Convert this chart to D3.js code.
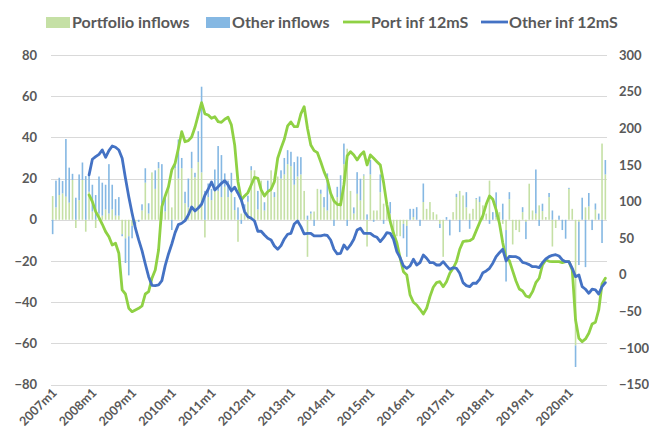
<!DOCTYPE html>
<html>
<head>
<meta charset="utf-8">
<script src="https://cdn.jsdelivr.net/npm/d3@7"></script>
<style>
  html, body { margin: 0; padding: 0; background: #fff; }
  svg text { font-family: Lato, "Open Sans", "Liberation Sans", sans-serif; font-weight: bold; fill: #595959; }
</style>
</head>
<body>
<svg id="chart" width="649" height="439"></svg>
<script>
// Monthly flows, 2007m1 .. 2020m12 (left axis)
const years = d3.range(2007, 2021);
const months = years.flatMap(y => d3.range(1, 13).map(m => `${y}m${m}`));

const portfolioInflows = [
  // 2007
  11.5, 6, 12, 12.8, 11.2, 8.3, 19.3, -4, 9.5, 19.3, -5.8, 13.6,
  // 2008
  4, -4, 3, 2, 5, 3, 5, 2, 2, -7, -9, -8,
  // 2009
  -3, -1, 0, 4.5, 18, 3, 23, 15, 25, 3, 4, 15,
  // 2010
  6, 25, 20, 25, 8, 6, 25, 20.6, 28, 23, -8.6, 11,
  // 2011
  9.5, 14, 14, 11, 16, 11, 12.8, 4.7, -10.7, 3, 5.5, 8.7,
  // 2012
  24, 24, 5, 19, 4.5, 14, 24, 11, 21, 20, 22, 27,
  // 2013
  26, 17, 21, 22, 14, -18, 3, 4, 15, 12.6, 6, 4.5,
  // 2014
  12.6, 8.6, 11, 8.6, 27, 34.5, 14, 3, 12.6, 9.4, 21.5, -13,
  // 2015
  22, 4.5, 4.5, 13.4, 7.8, 7, 3, -5, -8, -8, -2, -3,
  // 2016
  0, 1.3, 0, 0, 8.6, 5.3, 8.6, 3.7, 2.6, -2, -18, 0,
  // 2017
  0, 3.7, 11, 14, 11.8, 6, 3, 5.3, 10, 8.6, 7, 3,
  // 2018
  19, 0, 1.3, 3.7, -2, -5, 10, -12, -5, -6, 3.7, -1,
  // 2019
  17.5, 4.5, 3, 7, 4.2, 1.3, 11, -13, -4, 0, 0, 0,
  // 2020
  15, 5.3, -61, -1, 0, 6, 6.5, 0, 4.9, 0, 37, 22
];

const otherInflows = [
  // 2007
  -7, 13, 8.4, 6, 28, 17, 3, 10.7, 12.5, 8.5, 21.2, 8,
  // 2008
  13, 12, 18, 16, 12, 24, 12, 8, 9, -1, -12, -19,
  // 2009
  -6, -2, -1, 3, 7, 5, 0, 9, 3, 24, 7, 1.5,
  // 2010
  -5, 3, 19, 5, 5.6, 14, 8, 2.2, 15, 41.6, 14, 6.6,
  // 2011
  5.5, 10.4, 21.8, 20.4, 6.5, 8, 10, 6.3, 6, -2, 2, 3,
  // 2012
  2, 0, 9, 0, 4, 5, 0, 2.4, 0, 4, 8, 6.8,
  // 2013
  7, 11, 9.7, 8.4, 0, 2, 1, -3, 0, 2, 5, 18,
  // 2014
  0, -3, 5, 13, 10, -3, 0, 3, 10.5, 10.5, 0.5, 2.6,
  // 2015
  7, -1, 0, 8.6, -2, 0, 5.6, -2, 0, 0, -7, -15,
  // 2016
  5.3, 4, 6.1, -3, 9, 0, 0, 0, 0, -2, 0, 1.3,
  // 2017
  -7.6, 0, 1.6, -6, 0, 7.4, -4.4, 0, 0.5, 2.7, 0, 0,
  // 2018
  -2, 3.7, 12, 0, 7.8, -25, 3.4, 0, 0, 0, 2.4, -8.4,
  // 2019
  0, 0, 21.4, -3, 3.6, 0, 2, 4.5, 0, 2, -5, -9.2,
  // 2020
  0.5, 0, -10.5, -21, 10.7, -23, 6.5, -5, 3, 3, -11.3, 7
];

// 12-month sums, 2007m12 .. 2020m12 (right axis)
const portInf12mS = [
  108.9,
  99.7, 86.1, 77.9, 68.8, 58.8, 51.9, 40.6, 42.9, 29.2, -20.9, -26.4, -45.9,
  -50.5, -48.2, -45.9, -42.7, -26.4, -23.2, -4.9, 6.4, 33.7, 92.9, 107.5, 120.2,
  143, 152.1, 172.6, 195.3, 181.6, 183, 188, 201.3, 218.1, 234.9, 219.5, 218.1,
  213.6, 215.8, 209, 208.1, 212.2, 215, 204.5, 177.1, 127, 102, 107.5, 112,
  122.5, 133, 131.7, 115.7, 107.5, 113.4, 116.6, 127, 159, 172.6, 184.9, 203.1,
  208.6, 202.1, 202.1, 219.5, 229.4, 200, 177.1, 169.4, 166.6, 154.3, 140.7, 130,
  111.2, 100.7, 96.1, 95.2, 122.5, 162.1, 168, 163.5, 156.7, 163.5, 168, 149.8,
  163.5, 159, 154.3, 149.8, 125.7, 95.2, 72.4, 56.5, 43.7, 22.4, 4.1, -0.4,
  -27.7, -37.7, -41.4, -47.3, -53.7, -45.9, -30, -17.2, -10.9, -9.6, -16.4, -9.6,
  1.9, 8.7, 17.8, 34.7, 45.1, 46, 46.4, 49.2, 60.1, 71, 80.6, 96.1,
  107.5, 103, 88.4, 70.2, 43.7, 22.4, 19.1, 5.1, -8.6, -19.5, -22.3, -29.1,
  -30.9, -23.2, -10.9, -4.9, 13.2, 20.1, 18.3, 17.8, 17.8, 17.8, 16.4, 17.8,
  17.8, 6.4, -61.9, -86.9, -91.5, -87.8, -80, -67.3, -65, -48.2, -12.7, -4.9
];

const otherInf12mS = [
  136.2,
  157.6, 161.2, 164.4, 170.3, 160.3, 169.4, 175.8, 174, 170.3, 159, 131.7, 106.5,
  83.9, 63.4, 47.4, 32.8, 14.6, -2.7, -14.5, -15, -14.1, -8.2, 12.3, 28.3,
  41.9, 57.4, 68.3, 70.2, 73.7, 81.5, 92.5, 87, 91.1, 96.1, 108.4, 116.6,
  126.6, 115.7, 120.2, 124.8, 128.4, 122.5, 114.7, 119.4, 111.2, 102, 86, 79.2,
  77, 73.3, 59.3, 59.3, 54.2, 49.7, 47.4, 39.2, 34.7, 39.6, 48.8, 55.2,
  56.5, 69.2, 73.3, 65.6, 55.6, 56.5, 56.5, 52.9, 52.9, 52.9, 54.2, 53.5,
  47.4, 34.7, 28.3, 29.2, 40.6, 34.7, 40.6, 48.3, 61, 63.4, 56.5, 56.5,
  56.5, 52.9, 51, 45.1, 50.5, 57.4, 56.5, 48.3, 31.4, 23.2, 11.9, 8.7,
  11.9, 21, 13.2, 16.4, 26.9, 22.4, 16.4, 16.4, 13.2, 13.2, 17.8, 12.3,
  7.3, 9.6, 8.7, 1.9, -10.9, -15, -16.4, -11.7, -11.7, -6.3, 2.7, 5.1,
  8.7, 15.6, 24.6, 30, 34.7, 18.7, 25.1, 24.6, 24.6, 22.4, 16.9, 15.6,
  13.7, 10.9, 10.9, 9.6, 16.4, 21.4, 24.6, 26.5, 27.3, 25.5, 20.1, 17.8,
  17.8, 8.7, -2.7, -0.4, -16.4, -19.9, -25.4, -19.9, -20.9, -26.4, -16.4, -10.9
];

const leftTicks = [80, 60, 40, 20, 0, -20, -40, -60, -80];
const rightTicks = [300, 250, 200, 150, 100, 50, 0, -50, -100, -150];
const xTickLabels = years.map(y => `${y}m1`);

const colors = {
  portBar: "#c5e0a5",
  otherBar: "#85b8e3",
  portLine: "#8fd144",
  otherLine: "#4472c4",
  grid: "#d9d9d9"
};

const svg = d3.select("#chart");
const plot = { left: 51, right: 607, top: 55, bottom: 384.5 };

const x = d3.scaleBand().domain(months).range([plot.left, plot.right]).padding(0);
const yL = d3.scaleLinear().domain([-80, 80]).range([plot.bottom, plot.top]);
const yR = d3.scaleLinear().domain([-150, 300]).range([plot.bottom, plot.top]);
const cx = m => x(m) + x.bandwidth() / 2;

// gridlines (left axis)
svg.append("g")
  .selectAll("line").data(leftTicks).join("line")
  .attr("x1", plot.left).attr("x2", plot.right)
  .attr("y1", d => Math.round(yL(d)) + 0.5).attr("y2", d => Math.round(yL(d)) + 0.5)
  .attr("stroke", colors.grid).attr("stroke-width", 1);

// left axis labels
const leftAxis = d3.axisLeft(yL).tickValues(leftTicks).tickSize(0).tickPadding(0);
const gL = svg.append("g").attr("transform", "translate(37,0)").call(leftAxis);
gL.select(".domain").remove();
gL.selectAll("text").attr("font-size", 13).attr("font-family", null);

// right axis labels
const rightAxis = d3.axisRight(yR).tickValues(rightTicks).tickSize(0).tickPadding(0);
const gR = svg.append("g").attr("transform", "translate(619,0)").call(rightAxis);
gR.select(".domain").remove();
gR.selectAll("text").attr("font-size", 13).attr("font-family", null);

// stacked monthly bars
const rows = months.map((m, i) => ({ month: m, portfolio: portfolioInflows[i], other: otherInflows[i] }));
const stack = d3.stack().keys(["portfolio", "other"]).offset(d3.stackOffsetDiverging);
const series = stack(rows);
const barW = 1.6;
svg.append("g").selectAll("g").data(series).join("g")
  .attr("fill", d => d.key === "portfolio" ? colors.portBar : colors.otherBar)
  .selectAll("rect").data(d => d).join("rect")
  .attr("x", d => cx(d.data.month) - barW / 2)
  .attr("width", barW)
  .attr("y", d => yL(Math.max(d[0], d[1])))
  .attr("height", d => Math.abs(yL(d[0]) - yL(d[1])));

// 12-month sum lines
const lineMonths = months.slice(11);
const line = d3.line().x(d => cx(d.m)).y(d => yR(d.v)).curve(d3.curveLinear);
svg.append("path")
  .datum(lineMonths.map((m, i) => ({ m, v: portInf12mS[i] })))
  .attr("d", line).attr("fill", "none")
  .attr("stroke", colors.portLine).attr("stroke-width", 2.8)
  .attr("stroke-linejoin", "round").attr("stroke-linecap", "round");
svg.append("path")
  .datum(lineMonths.map((m, i) => ({ m, v: otherInf12mS[i] })))
  .attr("d", line).attr("fill", "none")
  .attr("stroke", colors.otherLine).attr("stroke-width", 2.8)
  .attr("stroke-linejoin", "round").attr("stroke-linecap", "round");

// category labels, rotated
svg.append("g").selectAll("text").data(xTickLabels).join("text")
  .attr("transform", d => `translate(${cx(d) + 5},${plot.bottom + 9}) rotate(-45)`)
  .attr("text-anchor", "end")
  .attr("font-size", 12.5)
  .text(d => d);

// legend
const legend = [
  { label: "Portfolio inflows", type: "rect", color: colors.portBar, x: 46, tx: 72 },
  { label: "Other inflows", type: "rect", color: colors.otherBar, x: 206, tx: 232 },
  { label: "Port inf 12mS", type: "line", color: colors.portLine, x: 343, tx: 371 },
  { label: "Other inf 12mS", type: "line", color: colors.otherLine, x: 481, tx: 509 }
];
const lg = svg.append("g");
legend.forEach(d => {
  if (d.type === "rect") {
    lg.append("rect").attr("x", d.x).attr("y", 17).attr("width", 24).attr("height", 11).attr("fill", d.color);
  } else {
    lg.append("line").attr("x1", d.x).attr("x2", d.x + 27).attr("y1", 22).attr("y2", 22)
      .attr("stroke", d.color).attr("stroke-width", 2.8);
  }
  lg.append("text").attr("x", d.tx).attr("y", 28).attr("font-size", 16).text(d.label);
});
</script>
</body>
</html>
